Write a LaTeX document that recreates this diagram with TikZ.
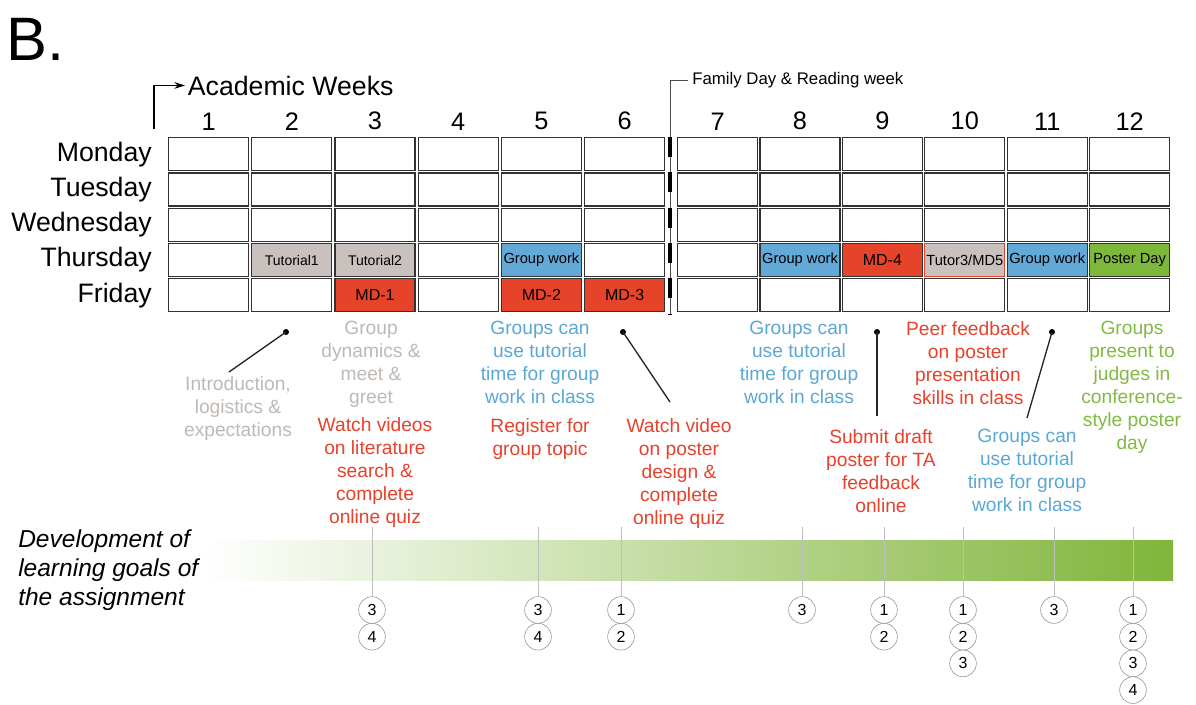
\documentclass[tikz,border=0pt]{standalone}
\usepackage{fontspec}
\setmainfont{Liberation Sans}
\usepackage{tikz}
\usetikzlibrary{arrows.meta, positioning}

\definecolor{tutgray}{HTML}{C8C1BD}
\definecolor{mdred}{HTML}{E5432A}
\definecolor{gwblue}{HTML}{62A9D8}
\definecolor{pdgreen}{HTML}{7DB83A}
\definecolor{notegray}{HTML}{BFB9B5}
\definecolor{notered}{HTML}{E8412C}
\definecolor{noteblue}{HTML}{5BA8D5}
\definecolor{notegreen}{HTML}{82BA42}
\definecolor{bargreen}{HTML}{80B53A}

\begin{document}
\begin{tikzpicture}[x=0.75pt, y=-0.75pt,
	cell/.style = {draw=black!80, line width=0.9pt, anchor=north west, minimum width=60pt, minimum height=24.8pt, inner sep=0pt, font=\fontsize{11}{13}\selectfont},
	day/.style = {inner sep=0pt, font=\fontsize{20}{24}\selectfont},
	week/.style = {inner sep=0pt, font=\fontsize{19}{22}\selectfont},
	note/.style = {align=center, anchor=north, inner sep=0pt, font=\fontsize{14.4}{17.25}\selectfont},
	dot/.style = {circle, fill=black, inner sep=0pt, minimum size=4.5pt},
	lead/.style = {black!85, line width=1pt},
	goal/.style = {circle, draw=black!45, fill=white, minimum size=20pt, inner sep=0pt, font=\fontsize{12}{14}\selectfont},
	goalline/.style = {black!25, line width=0.6pt}]
		\useasboundingbox (0,0) rectangle (1196,704);
		\fill[white] (0,0) rectangle (1196,704);
		\node[anchor=base west, inner sep=0pt, font=\fontsize{46}{50}\selectfont] (panel) at (6,60) {B.};
		% weekly grid
		\foreach \w in {1,...,12} {
			\pgfmathsetmacro{\xl}{\w<7 ? 168+(\w-1)*83.2 : 677+(\w-7)*82.4}
			\foreach \d in {1,...,5}
				\node[cell] (c-\w-\d) at (\xl, {137+(\d-1)*35.3}) {};
			\node[week, above=5pt of c-\w-1] (wk-\w) {\w};
		}
		\foreach \d/\dname in {1/Monday, 2/Tuesday, 3/Wednesday, 4/Thursday, 5/Friday}
			\node[day, left=12pt of c-1-\d] (day-\d) {\dname};
		\node[anchor=base west, inner sep=2pt, font=\fontsize{20}{24}\selectfont] (acweeks) at (185,95) {Academic Weeks};
		\coordinate (ac-foot) at (154,129);
		\draw[-{Stealth[length=8pt, width=5pt]}, line width=0.8pt] (ac-foot) |- (acweeks.west);
		% break week
		\node[anchor=west, inner sep=3pt, font=\fontsize{12.6}{15}\selectfont] (famday) at (688,80) {Family Day \& Reading week};
		\coordinate (fam-top) at (670,137);
		\coordinate (fam-foot) at (670,314);
		\draw[black!70, line width=0.6pt] (fam-foot) |- (famday.west);
		\draw[line width=3.2pt, dash pattern=on 15pt off 11.5pt] (fam-top) -- (fam-foot);
		% activities
		\node[cell, anchor=center, fill=tutgray, font=\fontsize{10.5}{12}\selectfont] (tut1) at (c-2-4) {Tutorial1};
		\node[cell, anchor=center, fill=tutgray, font=\fontsize{10.5}{12}\selectfont] (tut2) at (c-3-4) {Tutorial2};
		\node[cell, anchor=center, fill=mdred, font=\fontsize{12}{14}\selectfont] (md1) at (c-3-5) {MD-1};
		\node[cell, anchor=center, fill=gwblue] (gw5) at (c-5-4) {Group work};
		\node[cell, anchor=center, fill=mdred, font=\fontsize{12}{14}\selectfont] (md2) at (c-5-5) {MD-2};
		\node[cell, anchor=center, fill=mdred, font=\fontsize{12}{14}\selectfont] (md3) at (c-6-5) {MD-3};
		\node[cell, anchor=center, fill=gwblue] (gw8) at (c-8-4) {Group work};
		\node[cell, anchor=center, fill=mdred, font=\fontsize{12}{14}\selectfont] (md4) at (c-9-4) {MD-4};
		\node[cell, anchor=center, fill=tutgray, draw=mdred] (tut3) at (c-10-4) {Tutor3/MD5};
		\node[cell, anchor=center, fill=gwblue] (gw11) at (c-11-4) {Group work};
		\node[cell, anchor=center, fill=pdgreen] (pday) at (c-12-4) {Poster Day};
		% notes
		\node[note, text=notegray] (intro) at (238,376) {Introduction,\\logistics \&\\expectations};
		\node[note, text=notegray] (dynamics) at (371,321) {Group\\dynamics \&\\meet \&\\greet};
		\node[note, text=notered] (videos) at (375,417) {Watch videos\\on literature\\search \&\\complete\\online quiz};
		\node[note, text=noteblue] (gwork5) at (540,321) {Groups can\\use tutorial\\time for group\\work in class};
		\node[note, text=notered] (register) at (540,418) {Register for\\group topic};
		\node[note, text=notered] (postervid) at (679,418) {Watch video\\on poster\\design \&\\complete\\online quiz};
		\node[note, text=noteblue] (gwork8) at (799,321) {Groups can\\use tutorial\\time for group\\work in class};
		\node[note, text=notered] (peer) at (968,321) {Peer feedback\\on poster\\presentation\\skills in class};
		\node[note, text=notered] (submit) at (881,429) {Submit draft\\poster for TA\\feedback\\online};
		\node[note, text=noteblue] (gwork11) at (1027,429) {Groups can\\use tutorial\\time for group\\work in class};
		\node[note, text=notegreen] (present) at (1132,321) {Groups\\present to\\judges in\\conference-\\style poster\\day};
		% pointers
		\node[dot] (dot-2) at (286,332) {};
		\node[dot] (dot-6) at (623,332) {};
		\node[dot] (dot-9) at (877,332) {};
		\node[dot] (dot-11) at (1052,332) {};
		\coordinate (tip-2) at (229,372);
		\coordinate (tip-6) at (670,402);
		\coordinate (tip-9) at (877,416);
		\coordinate (tip-11) at (1027,418);
		\draw[lead] (dot-2.center) -- (tip-2);
		\draw[lead] (dot-6.center) -- (tip-6);
		\draw[lead] (dot-9.center) -- (tip-9);
		\draw[lead] (dot-11.center) -- (tip-11);
		% learning goals
		\node[anchor=north west, align=left, inner sep=0pt, font=\itshape\fontsize{18.4}{22.1}\selectfont] (devgoals) at (18,529) {Development of\\learning goals of\\the assignment};
		\shade[left color=white, right color=bargreen] (205,540) rectangle (1173,580);
		\foreach \x/\ga/\gb [count=\i] in {372/3/4, 538/3/4, 621/1/2, 802/3/3, 884/1/2, 963/1/3, 1054/3/3, 1133/1/4} {
			\coordinate (gtop-\i) at (\x,527);
			\foreach \g [count=\j] in {\ga,...,\gb}
				\node[goal] (g-\i-\j) at (\x, {610+(\j-1)*26.7}) {\g};
			\draw[goalline] (gtop-\i) -- (g-\i-1);
		}
	\end{tikzpicture}
\end{document}
